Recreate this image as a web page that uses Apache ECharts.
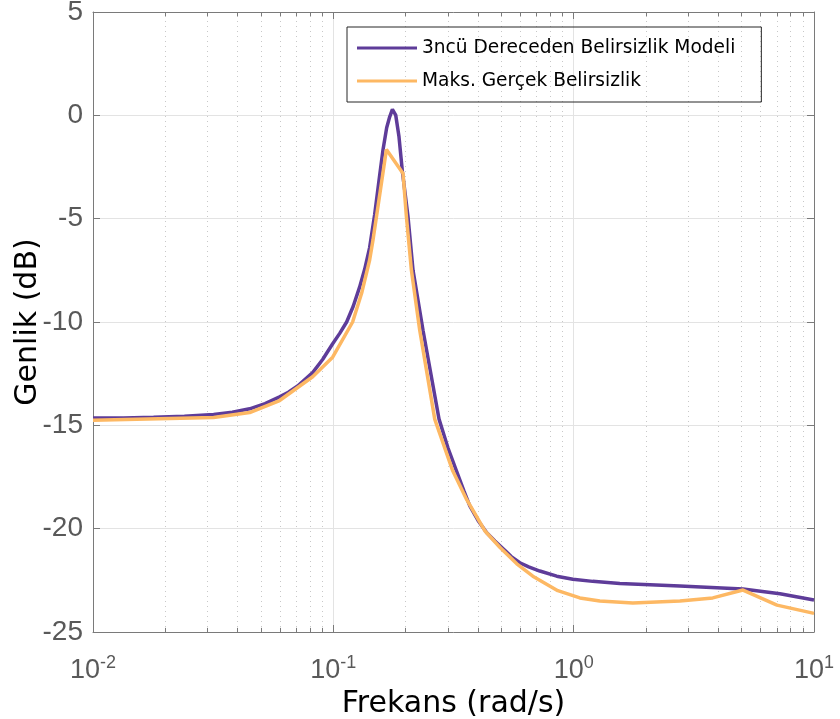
<!DOCTYPE html>
<html>
<head>
<meta charset="utf-8">
<script src="https://cdn.jsdelivr.net/npm/echarts@6/dist/echarts.min.js"></script>
<style>
  html, body { margin: 0; padding: 0; background: #fff; }
  #chart { width: 840px; height: 719px; }
</style>
</head>
<body>
<div id="chart"></div>
<script>
// Genlik egrileri (frekans rad/s, genlik dB)
const modelFreq = [0.01, 0.0134, 0.01786, 0.024, 0.03176, 0.038, 0.04486, 0.052, 0.05976, 0.065,
  0.07103, 0.08204, 0.0904, 0.09936, 0.1063, 0.1136, 0.1209, 0.1287, 0.135, 0.1416,
  0.1486, 0.1559, 0.1609, 0.1667, 0.1716, 0.1761, 0.1818, 0.1876, 0.1938,
  0.2045, 0.2146, 0.2361, 0.2753, 0.3, 0.3253, 0.35, 0.3696, 0.40, 0.4348, 0.47, 0.5169, 0.55,
  0.5968, 0.65, 0.7229, 0.85, 0.992, 1.2, 1.556, 2.767, 5.064, 7.218, 10];
const modelGain = [-14.65, -14.64, -14.61, -14.56, -14.48, -14.37, -14.2, -13.95, -13.62, -13.4,
  -13.1, -12.45, -11.8, -11.05, -10.55, -10.0, -9.25, -8.3, -7.45, -6.4,
  -4.8, -2.9, -1.68, -0.6, -0.07, 0.29, 0.01, -1.04, -2.73,
  -4.9, -7.5, -10.4, -14.7, -16.1, -17.2, -18.2, -18.9, -19.6, -20.2, -20.6, -21.05, -21.35,
  -21.65, -21.85, -22.05, -22.3, -22.45, -22.55, -22.65, -22.78, -22.92, -23.15, -23.45];

const realFreq = [0.01, 0.03176, 0.04486, 0.05976, 0.08204, 0.09936, 0.1203, 0.1312, 0.1416, 0.1462,
  0.1663, 0.1950, 0.2014, 0.2113, 0.2288, 0.2642, 0.3139, 0.3590, 0.4267, 0.4928,
  0.5799, 0.6761, 0.8590, 1.061, 1.285, 1.763, 2.767, 3.792, 5.064, 7.014, 10];
const realGain = [-14.75, -14.62, -14.38, -13.8, -12.65, -11.7, -10.0, -8.6, -7.0, -6.04,
  -1.65, -2.81, -4.9, -7.5, -10.4, -14.7, -17.2, -18.6, -20.1, -20.9,
  -21.7, -22.3, -23.0, -23.35, -23.5, -23.6, -23.5, -23.35, -22.97, -23.7, -24.1];

const minorTicks = [0.02, 0.03, 0.04, 0.05, 0.06, 0.07, 0.08, 0.09,
  0.2, 0.3, 0.4, 0.5, 0.6, 0.7, 0.8, 0.9,
  2, 3, 4, 5, 6, 7, 8, 9];

const axisGray = '#7a7a7a';
const labelGray = '#595959';

function pairs(xs, ys) {
  return xs.map((x, i) => [x, ys[i]]);
}

// kucuk log izgara cizgileri ve kisa tikler
const minorLines = [];
minorTicks.forEach(v => {
  minorLines.push({ xAxis: v, lineStyle: { type: [1, 4], color: '#c8c8c8', width: 1 } });
  minorLines.push([{ coord: [v, -25] }, { coord: [v, -24.8], lineStyle: { color: axisGray, type: 'solid', width: 1 } }]);
  minorLines.push([{ coord: [v, 5] }, { coord: [v, 4.8], lineStyle: { color: axisGray, type: 'solid', width: 1 } }]);
});

const chart = echarts.init(document.getElementById('chart'));
chart.setOption({
  animation: false,
  backgroundColor: '#fff',
  grid: { left: 93, right: 26, top: 12, bottom: 87, containLabel: false, outerBoundsMode: 'none' },
  legend: {
    orient: 'vertical',
    left: 347,
    top: 27,
    padding: [11, 26, 11, 10],
    itemGap: 13,
    itemWidth: 60,
    itemHeight: 20,
    icon: 'path://M0,0 L60,0 L60,3.2 L0,3.2 Z',
    borderColor: '#262626',
    borderWidth: 1,
    textStyle: { fontFamily: 'DejaVu Sans', fontSize: 18.6, color: '#000', lineHeight: 20 },
    data: ['3ncü Dereceden Belirsizlik Modeli', 'Maks. Gerçek Belirsizlik']
  },
  xAxis: [
    {
      type: 'log',
      logBase: 10,
      min: 0.01,
      max: 10,
      position: 'bottom',
      name: 'Frekans (rad/s)',
      nameLocation: 'middle',
      nameGap: 46,
      nameTextStyle: { fontFamily: 'DejaVu Sans', fontSize: 30, color: '#000' },
      axisLine: { onZero: false, lineStyle: { color: axisGray, width: 1 } },
      axisTick: { inside: true, length: 7, lineStyle: { color: axisGray } },
      splitLine: { show: true, lineStyle: { color: '#e3e3e3', width: 1 } },
      axisLabel: {
        margin: 22,
        showMinLabel: true,
        showMaxLabel: true,
        formatter: function (value) {
          const p = Math.round(Math.log10(value));
          return '{b|10}{s|' + p + '}';
        },
        rich: {
          b: { fontFamily: 'Liberation Sans', fontSize: 27, color: labelGray, lineHeight: 30, verticalAlign: 'bottom' },
          s: { fontFamily: 'Liberation Sans', fontSize: 18, color: labelGray, lineHeight: 30, verticalAlign: 'top' }
        }
      }
    },
    {
      type: 'log',
      logBase: 10,
      min: 0.01,
      max: 10,
      position: 'top',
      axisLine: { onZero: false, lineStyle: { color: axisGray, width: 1 } },
      axisTick: { inside: true, length: 7, lineStyle: { color: axisGray } },
      axisLabel: { show: false },
      splitLine: { show: false }
    }
  ],
  yAxis: [
    {
      type: 'value',
      min: -25,
      max: 5,
      interval: 5,
      name: 'Genlik (dB)',
      nameLocation: 'middle',
      nameGap: 50,
      nameMoveOverlap: false,
      nameTextStyle: { fontFamily: 'DejaVu Sans', fontSize: 30, color: '#000' },
      axisLine: { show: true, onZero: false, lineStyle: { color: axisGray, width: 1 } },
      axisTick: { show: true, inside: true, length: 7, lineStyle: { color: axisGray } },
      splitLine: { show: true, lineStyle: { color: '#e3e3e3', width: 1 } },
      axisLabel: { margin: 10, fontFamily: 'Liberation Sans', fontSize: 28, color: labelGray }
    },
    {
      type: 'value',
      min: -25,
      max: 5,
      interval: 5,
      position: 'right',
      axisLine: { show: true, onZero: false, lineStyle: { color: axisGray, width: 1 } },
      axisTick: { show: true, inside: true, length: 7, lineStyle: { color: axisGray } },
      axisLabel: { show: false },
      splitLine: { show: false }
    }
  ],
  series: [
    {
      name: '3ncü Dereceden Belirsizlik Modeli',
      type: 'line',
      xAxisIndex: 0,
      yAxisIndex: 0,
      symbol: 'none',
      z: 3,
      color: '#5e3c99',
      lineStyle: { width: 3.5, color: '#5e3c99' },
      data: pairs(modelFreq, modelGain),
      markLine: {
        silent: true,
        symbol: ['none', 'none'],
        label: { show: false },
        animation: false,
        z: 1,
        data: minorLines
      }
    },
    {
      name: 'Maks. Gerçek Belirsizlik',
      type: 'line',
      xAxisIndex: 0,
      yAxisIndex: 0,
      symbol: 'none',
      z: 4,
      color: '#fdb863',
      lineStyle: { width: 3.5, color: '#fdb863' },
      data: pairs(realFreq, realGain)
    }
  ]
});
</script>
</body>
</html>
